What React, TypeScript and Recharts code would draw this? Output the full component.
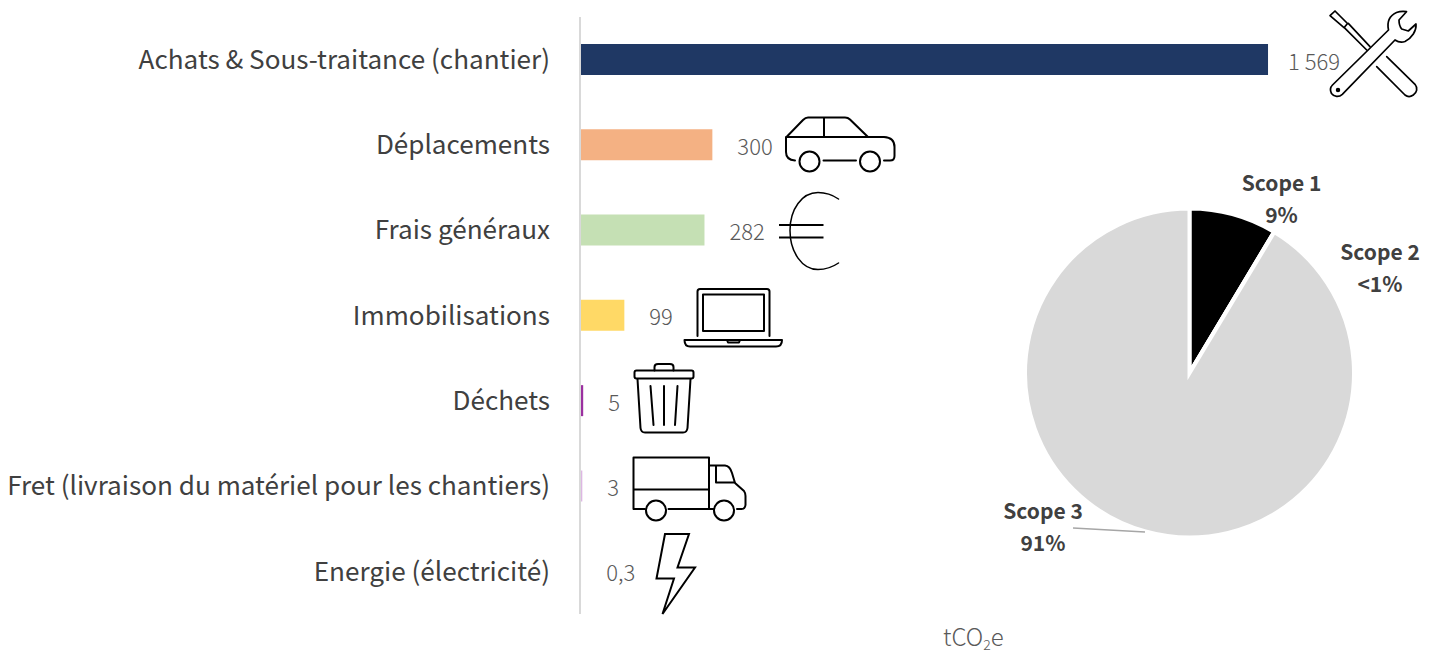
import { Bar, BarChart, Cell, LabelList, Pie, PieChart, XAxis, YAxis } from "recharts";

const FONT = '"Noto Sans CJK SC", "Noto Sans", sans-serif';

const categories = [
  "Achats & Sous-traitance (chantier)",
  "Déplacements",
  "Frais généraux",
  "Immobilisations",
  "Déchets",
  "Fret (livraison du matériel pour les chantiers)",
  "Energie (électricité)",
];
const emissions = [1569, 300, 282, 99, 5, 3, 0.3];
const barColors = ["#1F3864", "#F4B183", "#C5E0B4", "#FFD966", "#9B30A0", "#DDB7E3", "#F2F2F2"];

const scopes = ["Scope 1", "Scope 2", "Scope 3"];
const scopeValues = [8.6, 0.02, 91.38];
const scopeLabels = ["9%", "<1%", "91%"];
const scopeColors = ["#000000", "#7F7F7F", "#D9D9D9"];

const barData = categories.map((name, i) => ({ name, value: emissions[i] }));
const pieData = scopes.map((name, i) => ({ name, value: scopeValues[i], pct: scopeLabels[i] }));

// label placement for the pie, the source chart had them hand moved
const scopeLabelPos = [
  { x: 1281.5, y: 182 },
  { x: 1380, y: 251 },
  { x: 1043, y: 510 },
];

const formatValue = (v: number) =>
  v >= 1000
    ? `${Math.floor(v / 1000)}\u00A0${String(v % 1000).padStart(3, "0")}`
    : String(v).replace(".", ",");

function ValueLabel(props: any) {
  const { x, y, width, height, value } = props;
  const gap = value >= 1000 ? 20 : 25;
  return (
    <text
      x={x + width + gap}
      y={y + height / 2}
      dominantBaseline="central"
      fontFamily={FONT}
      fontSize={22}
      fontWeight={300}
      fill="#595959"
    >
      {formatValue(value)}
    </text>
  );
}

function ScopeLabel(props: any) {
  const { index, name, pct } = props;
  const pos = scopeLabelPos[index];
  return (
    <g fontFamily={FONT} fontSize={21} fontWeight={700} fill="#404040" textAnchor="middle">
      <text x={pos.x} y={pos.y} dominantBaseline="central">{name}</text>
      <text x={pos.x} y={pos.y + 32} dominantBaseline="central">{pct}</text>
      {index === 2 && <line x1={1073} y1={528} x2={1145} y2={532} stroke="#A6A6A6" strokeWidth={1.5} />}
    </g>
  );
}

function Icons() {
  return (
    <svg
      width={1433}
      height={653}
      style={{ position: "absolute", left: 0, top: 0 }}
      fill="none"
      stroke="#000"
      strokeWidth={2}
      strokeLinecap="round"
      strokeLinejoin="round"
    >
      {/* tools */}
      <g strokeWidth={1.7}>
        <path d="M1332.5 85 L1388.5 30 C1387 23 1389 16 1396.5 12.5 C1399.5 11.5 1403 11.2 1406.5 11.7 L1399 20 C1399 24 1400 27 1401.7 29 L1408.3 31 L1416 24 C1416.5 31 1412 38 1405 41.5 C1402 42.5 1398 42 1395 40 L1342.3 94.3 C1339 97.5 1334 97 1331.5 93.5 C1330 90.5 1330.5 87 1332.5 85 Z" />
        <circle cx={1338} cy={90} r={1.4} fill="#000" />
        <path d="M1330 15.7 L1335 11 L1347.5 23.5 L1344 27.7 Z M1348.3 23.3 L1370 46.7 M1344.3 27.7 L1366.7 50" />
        <path d="M1386.7 56.7 L1415 84.3 C1418 88 1417 92.5 1413.3 95 C1410.5 97 1407.5 97 1405 95 L1376.7 66.7" />
      </g>
      {/* car */}
      <path d="M786.5 137 L803 120 Q805.5 117.5 808 117.5 L845 117.5 Q848 117.5 850 119.5 L868 137 M824 117.5 L824 137 M786 137 L884 137 Q894.5 137.5 894.5 147 L894.5 156 Q894.5 160.5 890 160.5 L884 160.5 M856 160.5 L823.5 160.5 M795 160.5 Q786 160 786 152 L786 137" />
      <circle cx={809.5} cy={161.5} r={10} />
      <circle cx={870} cy={161.5} r={10} />
      {/* euro */}
      <path strokeWidth={1.5} d="M838.5 199 C832 194.5 825 192.5 818 192.5 C802 192.5 790 209 790 230.5 C790 252 802 269.5 818 269.5 C825 269.5 832 267.5 838.5 263" />
      <path strokeLinecap="butt" d="M779 225 L823.5 225 M779 237.5 L823.5 237.5" />
      {/* laptop */}
      <path d="M697.5 336 L697.5 291.5 Q697.5 289 700 289 L767 289 Q769.5 289 769.5 291.5 L769.5 336" />
      <rect x={703} y={294.5} width={61} height={36.5} />
      <path d="M684.5 340 L782 340 Q782 346.5 776 346.5 L690 346.5 Q684.5 346.5 684.5 340 Z M727 340 L728 342.5 L739 342.5 L740 340" />
      {/* bin */}
      <path d="M654.5 370.5 L654.5 367 Q654.5 364 658 364 L670 364 Q673.5 364 673.5 367 L673.5 370.5" />
      <rect x={634.5} y={370.5} width={59} height={8} rx={2} />
      <path d="M637.5 379 L640.5 428 Q641 432.5 645 432.5 L683 432.5 Q687 432.5 687.5 428 L690.5 379" />
      <path d="M650.5 386 L653.5 425 M664 386 L664 425 M677.5 386 L675 425" />
      {/* truck */}
      <path d="M645 509 L633.5 509 L633.5 457.5 L709 457.5 L709 509 M633.5 489.5 L709 489.5 M668.5 509 L714 509" />
      <path d="M709 465.5 L725 465.5 Q730 466 732 473 L735 483 L744 491 Q745.5 493 745.5 496 L745.5 505 Q745 509 741.5 509 L737 509 M716 465.5 L716 482.5 L735 482.5" />
      <circle cx={656} cy={510.5} r={10} />
      <circle cx={724} cy={510.5} r={10} />
      {/* lightning */}
      <path strokeLinejoin="miter" d="M665 534 L689 534 L677.5 567.5 L695 567.5 L662.5 614 L674 578.5 L656.5 578.5 Z" />
    </svg>
  );
}

export default function App() {
  return (
    <div style={{ position: "absolute", left: 0, top: 0, width: 1433, height: 653, overflow: "hidden", background: "#fff" }}>
      <div style={{ position: "absolute", left: 0, top: 0 }}>
        <BarChart
          width={1433}
          height={653}
          data={barData}
          layout="vertical"
          barCategoryGap={0}
          margin={{ top: 17, right: 151.4, bottom: 39, left: 0 }}
        >
          <XAxis type="number" domain={[0, 1600]} hide />
          <YAxis
            type="category"
            dataKey="name"
            width={581}
            interval={0}
            tickLine={false}
            tickMargin={31}
            tickSize={0}
            axisLine={{ stroke: "#D9D9D9", strokeWidth: 2, transform: "translate(-1 0)" }}
            tick={{ fontFamily: FONT, fontSize: 26.1, fontWeight: 400, fill: "#404040" }}
          />
          <Bar dataKey="value" barSize={31} isAnimationActive={false}>
            {barData.map((d, i) => (
              <Cell key={d.name} fill={barColors[i]} />
            ))}
            <LabelList dataKey="value" content={ValueLabel} />
          </Bar>
        </BarChart>
      </div>
      <div style={{ position: "absolute", left: 0, top: 0 }}>
        <PieChart width={1433} height={653} margin={{ top: 0, right: 0, bottom: 0, left: 0 }}>
          <Pie
            data={pieData}
            dataKey="value"
            nameKey="name"
            cx={1189.5}
            cy={373}
            outerRadius={164.5}
            startAngle={90}
            endAngle={-270}
            stroke="#fff"
            strokeWidth={4}
            label={ScopeLabel}
            labelLine={false}
            isAnimationActive={false}
          >
            {pieData.map((d, i) => (
              <Cell key={d.name} fill={scopeColors[i]} />
            ))}
          </Pie>
        </PieChart>
      </div>
      <Icons />
      <svg width={1433} height={653} style={{ position: "absolute", left: 0, top: 0 }}>
        <text x={943} y={646} fontFamily={FONT} fontSize={24} fontWeight={300} fill="#595959">
          tCO<tspan fontSize={14} dy={4}>2</tspan><tspan dy={-4}>e</tspan>
        </text>
      </svg>
    </div>
  );
}
